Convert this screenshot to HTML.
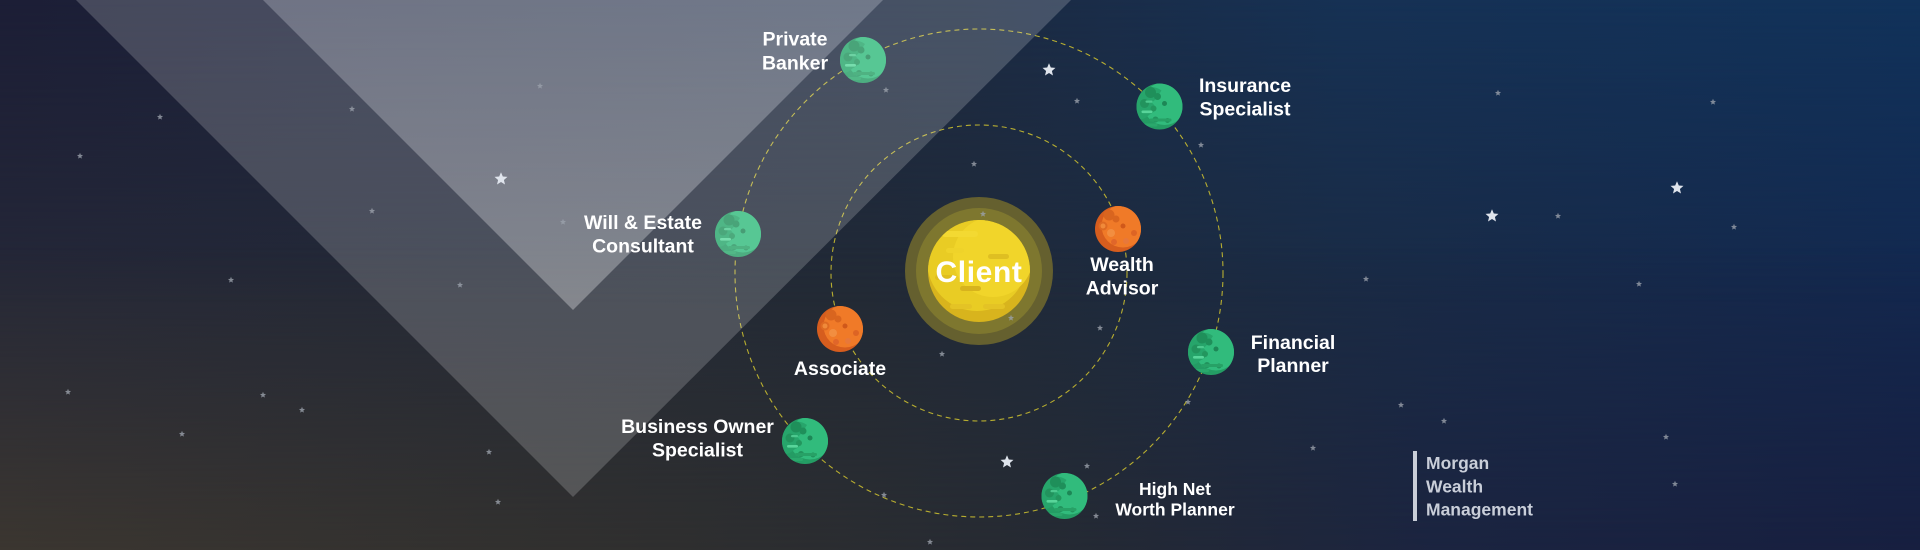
<!DOCTYPE html>
<html>
<head>
<meta charset="utf-8">
<style>
html,body{margin:0;padding:0;background:#222a36;width:1920px;height:550px;overflow:hidden;}
svg{display:block;}
.lbl{font-family:"Liberation Sans",Arial,sans-serif;font-weight:bold;font-size:19.5px;fill:#ffffff;text-anchor:middle;}
.sm{font-size:17.5px;}
.brand{font-family:"Liberation Sans",Arial,sans-serif;font-weight:bold;font-size:17.5px;fill:#c9ced9;}
</style>
</head>
<body>
<svg width="1920" height="550" viewBox="0 0 1920 550" xmlns="http://www.w3.org/2000/svg">
<defs>
  <linearGradient id="gMid" x1="0" y1="0" x2="1" y2="0">
    <stop offset="0" stop-color="#252838"/>
    <stop offset="0.45" stop-color="#222a36"/>
    <stop offset="0.7" stop-color="#1a2b45"/>
    <stop offset="1" stop-color="#13284f"/>
  </linearGradient>
  <linearGradient id="gTop" x1="0" y1="0" x2="1" y2="0">
    <stop offset="0" stop-color="#1c1e36"/>
    <stop offset="0.5" stop-color="#1c2a42"/>
    <stop offset="0.7" stop-color="#163154"/>
    <stop offset="1" stop-color="#11325a"/>
  </linearGradient>
  <linearGradient id="gBot" x1="0" y1="0" x2="1" y2="0">
    <stop offset="0" stop-color="#3b3630"/>
    <stop offset="0.35" stop-color="#2f2f2f"/>
    <stop offset="0.55" stop-color="#252a33"/>
    <stop offset="0.75" stop-color="#1b2440"/>
    <stop offset="1" stop-color="#171f40"/>
  </linearGradient>
  <linearGradient id="vTop" x1="0" y1="0" x2="0" y2="1">
    <stop offset="0" stop-color="#fff"/>
    <stop offset="0.55" stop-color="#000"/>
  </linearGradient>
  <linearGradient id="vBot" x1="0" y1="0" x2="0" y2="1">
    <stop offset="0.45" stop-color="#000"/>
    <stop offset="1" stop-color="#fff"/>
  </linearGradient>
  <mask id="mTop"><rect width="1920" height="550" fill="url(#vTop)"/></mask>
  <mask id="mBot"><rect width="1920" height="550" fill="url(#vBot)"/></mask>

  <linearGradient id="beamIn" x1="0" y1="0" x2="0" y2="310" gradientUnits="userSpaceOnUse">
    <stop offset="0" stop-color="#f4f6ff" stop-opacity="0.24"/>
    <stop offset="1" stop-color="#fff" stop-opacity="0.31"/>
  </linearGradient>

  <clipPath id="pc"><circle cx="0" cy="0" r="23"/></clipPath>
  <clipPath id="sc"><circle cx="0" cy="0" r="51"/></clipPath>

  <g id="gp">
    <circle r="23" fill="#249c64"/>
    <g clip-path="url(#pc)">
      <circle cx="5" cy="-3" r="21.5" fill="#31bb7c"/>
      <path d="M-23,-10 C-16,-20 -6,-22 2,-16 C-2,-10 -4,-6 -8,-4 C-2,0 -4,6 -10,8 C-14,12 -18,14 -23,12 Z" fill="#27a56b"/>
      <circle cx="-9" cy="-14" r="5.5" fill="#1f8f5a"/>
      <circle cx="-2" cy="-10" r="3.5" fill="#1f8f5a"/>
      <circle cx="-15" cy="-3" r="4.5" fill="#22935d"/>
      <circle cx="-6" cy="2" r="3" fill="#23965e"/>
      <circle cx="5" cy="-3" r="2.5" fill="#1d8756"/>
      <circle cx="-4" cy="13" r="3" fill="#22935d"/>
      <circle cx="8" cy="14" r="2.5" fill="#22935d"/>
      <rect x="-18" y="4" width="11" height="2.6" rx="1.3" fill="#58d59a"/>
      <rect x="-14" y="-6" width="7" height="2.2" rx="1.1" fill="#4cc88e"/>
      <rect x="-10" y="12" width="22" height="3" rx="1.5" fill="#27a166"/>
      <rect x="-16" y="17" width="14" height="3" rx="1.5" fill="#2aa86c"/>
    </g>
  </g>
  <g id="op">
    <circle r="23" fill="#d65d1e"/>
    <g clip-path="url(#pc)">
      <circle cx="5" cy="-3" r="21.5" fill="#f07a28"/>
      <circle cx="-9" cy="-14" r="5.5" fill="#d9651f"/>
      <circle cx="-2" cy="-10" r="3.5" fill="#d9651f"/>
      <circle cx="-15" cy="-3" r="4.5" fill="#de6a22"/>
      <circle cx="-15" cy="-3" r="2.5" fill="#f08a3a"/>
      <circle cx="-7" cy="4" r="4" fill="#f28e40"/>
      <circle cx="5" cy="-3" r="2.5" fill="#d0581a"/>
      <circle cx="-4" cy="13" r="3" fill="#e0662a"/>
      <circle cx="8" cy="12" r="3" fill="#e8783a"/>
      <circle cx="16" cy="4" r="3" fill="#dd6424"/>
    </g>
  </g>
  <path id="st" d="M0,-10 L2.645,-3.64 L9.511,-3.09 L4.28,1.39 L5.878,8.09 L0,4.5 L-5.878,8.09 L-4.28,1.39 L-9.511,-3.09 L-2.645,-3.64 Z"/>
</defs>

<!-- background -->
<rect width="1920" height="550" fill="url(#gMid)"/>
<rect width="1920" height="550" fill="url(#gTop)" mask="url(#mTop)"/>
<rect width="1920" height="550" fill="url(#gBot)" mask="url(#mBot)"/>

<!-- orbits -->
<circle cx="979" cy="273" r="148" fill="none" stroke="#c9bc30" stroke-width="1.1" stroke-dasharray="5 4" opacity="0.9"/>
<circle cx="979" cy="273" r="244" fill="none" stroke="#c9bc30" stroke-width="1.1" stroke-dasharray="5 4" opacity="0.9"/>

<!-- sun -->
<g transform="translate(979,271)">
  <circle r="74" fill="#65602f"/>
  <circle r="63" fill="#7e772f"/>
  <circle r="51" fill="#d8b41d"/>
  <g clip-path="url(#sc)">
    <circle cx="-2" cy="-10" r="50" fill="#e9cc24"/>
    <circle cx="14" cy="-14" r="40" fill="#f1d52a"/>
    <rect x="-37" y="-40" width="36" height="6" rx="3" fill="#f3d932"/>
    <rect x="-33" y="-23" width="18" height="5" rx="2.5" fill="#efd32a"/>
    <rect x="9" y="-17" width="21" height="5" rx="2.5" fill="#dfbf22"/>
    <rect x="-44" y="4" width="20" height="5" rx="2.5" fill="#dfbe20"/>
    <rect x="-19" y="15" width="21" height="5" rx="2.5" fill="#d7b31d"/>
    <rect x="-29" y="33" width="22" height="5" rx="2.5" fill="#e4c325"/>
    <rect x="4" y="33" width="22" height="5" rx="2.5" fill="#e4c325"/>
  </g>
</g>

<!-- planets -->
<use href="#gp" x="863" y="60"/>
<use href="#gp" x="1159.5" y="106.5"/>
<use href="#gp" x="738" y="234"/>
<use href="#op" x="1118" y="229"/>
<use href="#op" x="840" y="329"/>
<use href="#gp" x="1211" y="352"/>
<use href="#gp" x="805" y="441"/>
<use href="#gp" x="1064.5" y="496"/>

<!-- light beams -->
<polygon points="76,0 573,497 1071,0" fill="#ffffff" fill-opacity="0.19"/>
<polygon points="263,0 573,310 883,0" fill="url(#beamIn)"/>

<!-- small stars -->
<g fill="#9ba1ab" fill-opacity="0.8">
  <use href="#st" transform="translate(540,86) scale(0.32)"/>
  <use href="#st" transform="translate(352,109) scale(0.32)"/>
  <use href="#st" transform="translate(160,117) scale(0.32)"/>
  <use href="#st" transform="translate(80,156) scale(0.32)"/>
  <use href="#st" transform="translate(372,211) scale(0.32)"/>
  <use href="#st" transform="translate(563,222) scale(0.32)"/>
  <use href="#st" transform="translate(231,280) scale(0.32)"/>
  <use href="#st" transform="translate(460,285) scale(0.32)"/>
  <use href="#st" transform="translate(68,392) scale(0.32)"/>
  <use href="#st" transform="translate(263,395) scale(0.32)"/>
  <use href="#st" transform="translate(302,410) scale(0.32)"/>
  <use href="#st" transform="translate(182,434) scale(0.32)"/>
  <use href="#st" transform="translate(489,452) scale(0.32)"/>
  <use href="#st" transform="translate(498,502) scale(0.32)"/>
  <use href="#st" transform="translate(886,90) scale(0.32)"/>
  <use href="#st" transform="translate(942,354) scale(0.32)"/>
  <use href="#st" transform="translate(884,495) scale(0.32)"/>
  <use href="#st" transform="translate(930,542) scale(0.32)"/>
  <use href="#st" transform="translate(1077,101) scale(0.32)"/>
  <use href="#st" transform="translate(974,164) scale(0.32)"/>
  <use href="#st" transform="translate(1201,145) scale(0.32)"/>
  <use href="#st" transform="translate(983,214) scale(0.32)"/>
  <use href="#st" transform="translate(1011,318) scale(0.32)"/>
  <use href="#st" transform="translate(1100,328) scale(0.32)"/>
  <use href="#st" transform="translate(1498,93) scale(0.32)"/>
  <use href="#st" transform="translate(1713,102) scale(0.32)"/>
  <use href="#st" transform="translate(1558,216) scale(0.32)"/>
  <use href="#st" transform="translate(1734,227) scale(0.32)"/>
  <use href="#st" transform="translate(1366,279) scale(0.32)"/>
  <use href="#st" transform="translate(1639,284) scale(0.32)"/>
  <use href="#st" transform="translate(1188,402) scale(0.32)"/>
  <use href="#st" transform="translate(1401,405) scale(0.32)"/>
  <use href="#st" transform="translate(1444,421) scale(0.32)"/>
  <use href="#st" transform="translate(1666,437) scale(0.32)"/>
  <use href="#st" transform="translate(1313,448) scale(0.32)"/>
  <use href="#st" transform="translate(1087,466) scale(0.32)"/>
  <use href="#st" transform="translate(1675,484) scale(0.32)"/>
  <use href="#st" transform="translate(1096,516) scale(0.32)"/>
</g>
<!-- big stars -->
<g fill="#dfe4ec">
  <use href="#st" transform="translate(501,179) scale(0.68)"/>
  <use href="#st" transform="translate(1049,70) scale(0.68)"/>
  <use href="#st" transform="translate(1677,188) scale(0.68)"/>
  <use href="#st" transform="translate(1492,216) scale(0.68)"/>
  <use href="#st" transform="translate(1007,462) scale(0.68)"/>
</g>

<!-- client text -->
<text x="979" y="282" font-family="'Liberation Sans',Arial,sans-serif" font-weight="bold" font-size="30" letter-spacing="0.6" fill="#ffffff" text-anchor="middle">Client</text>

<!-- labels -->
<text class="lbl" x="795" y="45.5">Private</text>
<text class="lbl" x="795" y="69.5">Banker</text>

<text class="lbl" x="1245" y="92">Insurance</text>
<text class="lbl" x="1245" y="115.5">Specialist</text>

<text class="lbl" x="643" y="229">Will &amp; Estate</text>
<text class="lbl" x="643" y="252.5">Consultant</text>

<text class="lbl" x="1122" y="271">Wealth</text>
<text class="lbl" x="1122" y="294.5">Advisor</text>

<text class="lbl" x="840" y="375">Associate</text>

<text class="lbl" x="1293" y="349">Financial</text>
<text class="lbl" x="1293" y="372">Planner</text>

<text class="lbl" x="697.5" y="433">Business Owner</text>
<text class="lbl" x="697.5" y="456.5">Specialist</text>

<text class="lbl sm" x="1175" y="495">High Net</text>
<text class="lbl sm" x="1175" y="515.5">Worth Planner</text>

<!-- brand -->
<rect x="1413" y="451" width="4" height="70" fill="#c9ced8"/>
<text class="brand" x="1426" y="469">Morgan</text>
<text class="brand" x="1426" y="492.5">Wealth</text>
<text class="brand" x="1426" y="515.5">Management</text>
</svg>
</body>
</html>
